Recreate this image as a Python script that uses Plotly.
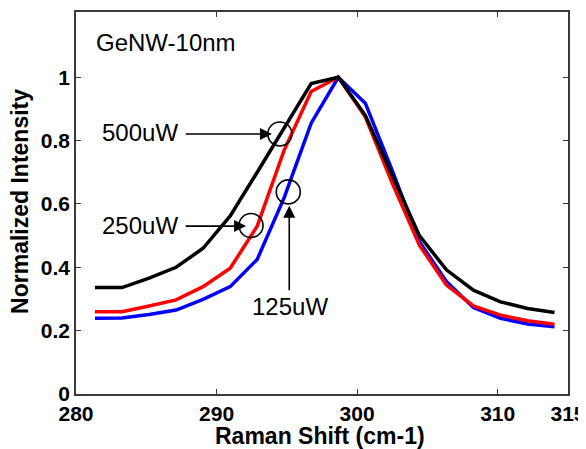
import plotly.graph_objects as go

# ---- data ----
raman_shift = [281.35, 283.27, 285.20, 287.12, 289.04, 290.97, 292.89, 294.81, 296.73,
               298.66, 300.58, 302.50, 304.43, 306.35, 308.27, 310.20, 312.12, 314.04]
intensity_500uW = [0.336, 0.336, 0.366, 0.400, 0.460, 0.562, 0.700, 0.838, 0.980,
                   1.000, 0.880, 0.690, 0.500, 0.392, 0.328, 0.291, 0.270, 0.257]
intensity_250uW = [0.260, 0.260, 0.278, 0.297, 0.339, 0.397, 0.530, 0.770, 0.955,
                   1.000, 0.875, 0.665, 0.470, 0.344, 0.278, 0.249, 0.231, 0.220]
intensity_125uW = [0.239, 0.240, 0.251, 0.265, 0.299, 0.339, 0.425, 0.620, 0.855,
                   1.000, 0.918, 0.705, 0.481, 0.355, 0.273, 0.239, 0.221, 0.2125]

x_ticks = [280, 290, 300, 310, 315]
y_ticks = [0, 0.2, 0.4, 0.6, 0.8, 1]
y_tick_text = ["0", "0.2", "0.4", "0.6", "0.8", "1"]

FONT = "Liberation Sans, Arial, sans-serif"

fig = go.Figure()
for ys, col, name in [(intensity_125uW, "#0000ff", "125uW"),
                      (intensity_250uW, "#ff0000", "250uW"),
                      (intensity_500uW, "#000000", "500uW")]:
    fig.add_trace(go.Scatter(x=raman_shift, y=ys, mode="lines", name=name,
                             line=dict(color=col, width=3.5), showlegend=False))

axis_common = dict(showline=True, linecolor="#3a3a3a", linewidth=1.5, mirror="ticks",
                   ticks="inside", ticklen=5, tickwidth=1, tickcolor="#3a3a3a",
                   showgrid=False, zeroline=False, automargin=False,
                   tickfont=dict(family=FONT, size=21, color="black", weight="bold"))

fig.update_xaxes(range=[280, 315], tickvals=x_ticks, ticktext=[str(v) for v in x_ticks],
                 **axis_common)
fig.update_yaxes(range=[0, 1.206], tickvals=y_ticks, ticktext=y_tick_text,
                 **axis_common)

title_font = dict(family=FONT, size=23, color="black")
fig.add_annotation(xref="paper", yref="paper", x=0.4954, y=-0.11, xanchor="center",
                   yanchor="middle", showarrow=False, borderpad=0,
                   text="<b>Raman Shift (cm-1)</b>", font=title_font)
fig.add_annotation(xref="paper", yref="paper", x=-0.1137, y=0.503, xanchor="center",
                   yanchor="middle", showarrow=False, borderpad=0, textangle=-90,
                   text="<b>Normalized Intensity</b>", font=title_font)

ann_font = dict(family=FONT, size=24, color="black")
annotations = [
    dict(x=281.33, y=1.110, text="GeNW-10nm", xanchor="left", yanchor="middle"),
    dict(x=281.80, y=0.826, text="500uW", xanchor="left", yanchor="middle"),
    dict(x=281.80, y=0.533, text="250uW", xanchor="left", yanchor="middle"),
    dict(x=292.43, y=0.275, text="125uW", xanchor="left", yanchor="middle"),
]
for a in annotations:
    fig.add_annotation(xref="x", yref="y", showarrow=False, font=ann_font, borderpad=0, **a)

arrows = [
    (293.94, 0.821, 287.70, 0.821),
    (292.10, 0.530, 287.70, 0.530),
    (295.17, 0.594, 295.17, 0.323),
]
for x, y, ax, ay in arrows:
    fig.add_annotation(x=x, y=y, ax=ax, ay=ay, xref="x", yref="y", axref="x", ayref="y",
                       text="", showarrow=True, arrowhead=2, arrowsize=1.5,
                       arrowwidth=1.6, arrowcolor="black")

circles = [(294.50, 0.821), (292.45, 0.532), (295.10, 0.638)]
for cx, cy in circles:
    fig.add_shape(type="circle", xref="x", yref="y", xsizemode="pixel", ysizemode="pixel",
                  xanchor=cx, yanchor=cy, x0=-12, x1=12, y0=-12, y1=12,
                  line=dict(color="black", width=1.6))

# the page body adds an 8px offset, so margins are set relative to that
fig.update_layout(width=586, height=449, margin=dict(l=68, r=25.5, t=4, b=63),
                  plot_bgcolor="white", paper_bgcolor="white")

fig.write_html("out.html")
